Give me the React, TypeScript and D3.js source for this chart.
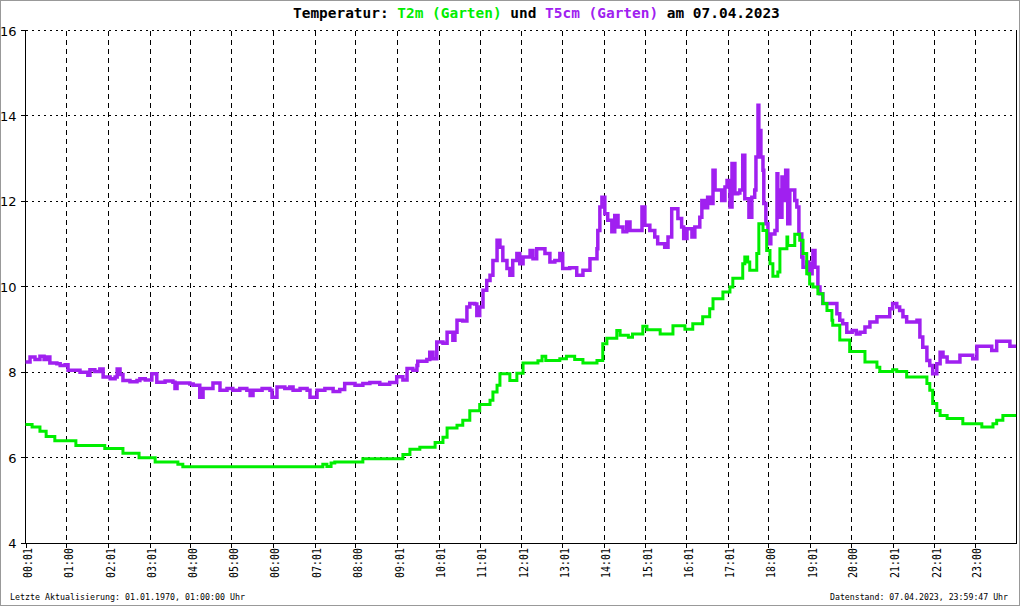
import React from 'react';
import * as d3 from 'd3';

const W = 1020;
const H = 606;

const titleParts: [string, string][] = [
  ['Temperatur: ', '#000000'],
  ['T2m (Garten) ', '#00ee00'],
  ['und ', '#000000'],
  ['T5cm (Garten) ', '#a020f0'],
  ['am 07.04.2023', '#000000'],
];

const xTickLabels = [
  '00:01', '01:00', '02:01', '03:01', '04:00', '05:00', '06:00', '07:01', '08:00', '09:01', '10:01', '11:01',
  '12:01', '13:01', '14:01', '15:01', '16:01', '17:01', '18:00', '19:01', '20:00', '21:01', '22:01', '23:00',
];
const yTickValues = [4, 6, 8, 10, 12, 14, 16];

const footerLeft = 'Letzte Aktualisierung: 01.01.1970, 01:00:00 Uhr';
const footerRight = 'Datenstand: 07.04.2023, 23:59:47 Uhr';

// [hour of day, °C]
const t2m: [number, number][] = [
  [0, 6.78], [0.16, 6.72], [0.35, 6.62], [0.5, 6.5], [0.71, 6.4], [1.22, 6.29], [1.92, 6.22], [2.36, 6.11],
  [2.75, 6.0], [3.14, 5.9], [3.69, 5.85], [3.81, 5.79], [7.2, 5.85], [7.3, 5.8], [7.4, 5.88], [7.49, 5.9],
  [8.17, 5.98], [9.14, 6.08], [9.31, 6.2], [9.55, 6.25], [9.92, 6.36], [10.11, 6.48], [10.21, 6.7], [10.45, 6.76],
  [10.59, 6.88], [10.76, 7.1], [11.0, 7.25], [11.25, 7.35], [11.32, 7.54], [11.42, 7.7], [11.49, 7.97], [11.73, 7.81],
  [11.9, 7.98], [12.05, 8.22], [12.41, 8.27], [12.51, 8.38], [12.6, 8.28], [12.94, 8.32], [13.1, 8.38], [13.3, 8.3],
  [13.5, 8.22], [13.84, 8.28], [13.98, 8.67], [14.08, 8.8], [14.32, 8.98], [14.4, 8.87], [14.6, 8.82], [14.7, 8.9],
  [14.95, 9.08], [15.05, 9.0], [15.37, 8.9], [15.68, 9.09], [15.97, 9.01], [16.16, 9.14], [16.4, 9.3], [16.57, 9.49],
  [16.65, 9.72], [16.89, 9.88], [17.06, 10.0], [17.13, 10.2], [17.37, 10.54], [17.42, 10.7], [17.49, 10.58], [17.54, 10.39],
  [17.71, 10.78], [17.76, 11.48], [17.86, 11.32], [17.95, 10.85], [18.03, 10.54], [18.1, 10.25], [18.22, 10.35], [18.27, 10.89],
  [18.44, 11.17], [18.46, 10.97], [18.63, 11.23], [18.75, 11.09], [18.83, 10.78], [18.92, 10.31], [18.99, 10.07], [19.07, 10.0],
  [19.19, 9.84], [19.31, 9.61], [19.41, 9.45], [19.53, 9.22], [19.55, 9.1], [19.72, 8.76], [19.96, 8.49], [20.33, 8.24],
  [20.62, 8.12], [20.69, 8.02], [21.0, 8.06], [21.1, 8.02], [21.34, 7.89], [21.83, 7.74], [21.9, 7.58], [21.97, 7.27],
  [22.07, 7.11], [22.15, 6.99], [22.32, 6.92], [22.7, 6.8], [23.16, 6.72], [23.43, 6.8], [23.52, 6.88], [23.67, 6.99],
  [23.99, 6.99],
];

const t5cm: [number, number][] = [
  [0, 8.24], [0.11, 8.36], [0.23, 8.3], [0.35, 8.38], [0.45, 8.3], [0.52, 8.36], [0.59, 8.22], [0.76, 8.2],
  [0.84, 8.16], [0.96, 8.18], [1.03, 8.05], [1.25, 8.05], [1.32, 8.0], [1.51, 7.93], [1.56, 8.06], [1.68, 8.02],
  [1.8, 8.08], [1.88, 7.89], [2.05, 7.85], [2.17, 7.89], [2.22, 8.08], [2.29, 7.95], [2.36, 7.81], [2.53, 7.78],
  [2.7, 7.81], [2.77, 7.85], [2.9, 7.82], [3.06, 7.97], [3.18, 7.77], [3.38, 7.8], [3.57, 7.77], [3.62, 7.62],
  [3.67, 7.75], [3.86, 7.75], [3.98, 7.73], [4.06, 7.7], [4.22, 7.42], [4.3, 7.62], [4.54, 7.75], [4.71, 7.58],
  [4.88, 7.62], [5.02, 7.58], [5.19, 7.62], [5.36, 7.58], [5.44, 7.46], [5.51, 7.58], [5.73, 7.62], [5.92, 7.58],
  [5.97, 7.42], [6.09, 7.66], [6.28, 7.62], [6.4, 7.66], [6.48, 7.58], [6.65, 7.62], [6.82, 7.58], [6.89, 7.42],
  [7.06, 7.58], [7.25, 7.62], [7.45, 7.55], [7.61, 7.6], [7.73, 7.74], [7.98, 7.7], [8.17, 7.74], [8.34, 7.76],
  [8.58, 7.72], [8.82, 7.76], [8.99, 7.9], [9.14, 7.82], [9.24, 8.09], [9.38, 8.05], [9.48, 8.16], [9.5, 8.26],
  [9.72, 8.3], [9.79, 8.47], [9.87, 8.32], [9.96, 8.71], [10.11, 8.68], [10.21, 8.94], [10.35, 8.75], [10.4, 8.94],
  [10.45, 9.22], [10.59, 9.2], [10.69, 9.53], [10.76, 9.61], [10.88, 9.6], [10.93, 9.33], [11.0, 9.53], [11.08, 9.92],
  [11.17, 10.15], [11.25, 10.27], [11.32, 10.62], [11.42, 11.09], [11.49, 10.93], [11.56, 10.62], [11.66, 10.43], [11.73, 10.27],
  [11.8, 10.62], [11.9, 10.78], [11.97, 10.54], [12.05, 10.7], [12.22, 10.85], [12.29, 10.66], [12.38, 10.89], [12.53, 10.89],
  [12.58, 10.78], [12.7, 10.58], [12.82, 10.62], [12.94, 10.78], [13.01, 10.43], [13.18, 10.45], [13.35, 10.27], [13.5, 10.39],
  [13.67, 10.66], [13.84, 10.89], [13.86, 11.32], [13.91, 11.87], [13.96, 12.1], [14.03, 11.71], [14.1, 11.56], [14.2, 11.29],
  [14.27, 11.67], [14.35, 11.4], [14.47, 11.29], [14.56, 11.52], [14.64, 11.32], [14.83, 11.32], [14.93, 11.87], [15.0, 11.44],
  [15.12, 11.32], [15.24, 11.17], [15.31, 11.01], [15.43, 11.01], [15.48, 10.93], [15.56, 11.17], [15.65, 11.83], [15.72, 11.83],
  [15.8, 11.6], [15.89, 11.4], [15.94, 11.13], [16.02, 11.36], [16.14, 11.17], [16.21, 11.4], [16.29, 11.4], [16.33, 11.63],
  [16.38, 12.02], [16.45, 11.85], [16.52, 12.1], [16.57, 11.95], [16.65, 12.73], [16.7, 12.27], [16.82, 12.27], [16.86, 12.02],
  [16.94, 12.34], [16.99, 12.49], [17.06, 11.87], [17.11, 12.89], [17.18, 12.18], [17.25, 12.2], [17.3, 12.27], [17.37, 13.08],
  [17.42, 12.06], [17.52, 11.63], [17.59, 12.1], [17.66, 12.27], [17.69, 13.04], [17.74, 14.25], [17.76, 13.66], [17.81, 13.04],
  [17.86, 12.73], [17.88, 11.95], [17.93, 11.48], [17.98, 11.01], [18.05, 11.24], [18.15, 11.32], [18.2, 12.65], [18.22, 12.27],
  [18.27, 11.63], [18.32, 12.57], [18.34, 12.02], [18.41, 12.73], [18.46, 11.48], [18.51, 12.27], [18.58, 12.27], [18.63, 12.02],
  [18.68, 11.87], [18.73, 11.24], [18.8, 10.7], [18.83, 10.46], [18.92, 10.58], [18.97, 10.31], [19.05, 10.54], [19.07, 10.85],
  [19.12, 10.46], [19.19, 10.0], [19.24, 9.84], [19.31, 9.61], [19.6, 9.61], [19.65, 9.37], [19.72, 9.22], [19.79, 9.14],
  [19.89, 8.94], [20.02, 8.98], [20.12, 8.9], [20.21, 8.94], [20.33, 9.06], [20.45, 9.18], [20.62, 9.3], [20.88, 9.3],
  [20.93, 9.49], [21.0, 9.61], [21.1, 9.53], [21.17, 9.45], [21.25, 9.3], [21.34, 9.18], [21.49, 9.18], [21.59, 9.22],
  [21.66, 8.83], [21.73, 8.59], [21.83, 8.28], [21.9, 8.16], [21.97, 7.97], [22.07, 8.2], [22.15, 8.47], [22.22, 8.36],
  [22.32, 8.24], [22.55, 8.24], [22.63, 8.4], [22.87, 8.4], [22.94, 8.32], [23.04, 8.61], [23.35, 8.61], [23.4, 8.51],
  [23.52, 8.73], [23.77, 8.73], [23.84, 8.61], [23.99, 8.61],
];

export default function App() {
  const x = d3.scaleLinear().domain([0, 24]).range([25.5, 1016.5]);
  const y = d3.scaleLinear().domain([4, 16]).range([543.3, 30.5]);
  const px = (v: number) => Math.floor(v) + 0.5;

  const lineStep = d3
    .line<[number, number]>()
    .x((d) => x(d[0]))
    .y((d) => y(d[1]))
    .curve(d3.curveStepAfter);

  const tickHours = xTickLabels.map((s) => {
    const [h, m] = s.split(':').map(Number);
    return h + m / 60;
  });

  const left = px(x(0));
  const right = px(x(24));
  const top = px(y(16));
  const bottom = px(y(4));

  return (
    <svg
      width={W}
      height={H}
      style={{ position: 'absolute', left: 0, top: 0, display: 'block', background: '#fff' }}
    >
      <rect x={0.5} y={0.5} width={W - 1} height={H - 1} fill="#fff" stroke="#999" />

      {/* horizontal grid */}
      {yTickValues
        .filter((v) => v !== 4)
        .map((v) => (
          <line
            key={'hg' + v}
            x1={left}
            x2={right}
            y1={px(y(v))}
            y2={px(y(v))}
            stroke="#000"
            strokeDasharray="2,4"
            shapeRendering="crispEdges"
          />
        ))}
      {/* vertical grid */}
      {tickHours.slice(1).map((h, i) => (
        <line
          key={'vg' + i}
          x1={px(x(h))}
          x2={px(x(h))}
          y1={top}
          y2={bottom}
          stroke="#000"
          strokeDasharray="5,4"
          shapeRendering="crispEdges"
        />
      ))}

      {/* axes */}
      <line x1={left} x2={left} y1={top} y2={bottom} stroke="#000" shapeRendering="crispEdges" />
      <line x1={right} x2={right} y1={top} y2={bottom} stroke="#000" shapeRendering="crispEdges" />
      <line x1={left} x2={right} y1={bottom} y2={bottom} stroke="#000" shapeRendering="crispEdges" />

      {/* y ticks and labels */}
      {yTickValues.map((v) => (
        <g key={'yt' + v}>
          <line x1={left - 5} x2={left} y1={px(y(v))} y2={px(y(v))} stroke="#000" shapeRendering="crispEdges" />
          <text
            x={16.5}
            y={y(v) + 5}
            textAnchor="end"
            fontFamily="DejaVu Sans"
            fontSize={13}
            fill="#000"
          >
            {v}
          </text>
        </g>
      ))}

      {/* x ticks and labels */}
      {tickHours.map((h, i) => (
        <g key={'xt' + i}>
          <line x1={px(x(h))} x2={px(x(h))} y1={bottom} y2={bottom + 4} stroke="#000" shapeRendering="crispEdges" />
          <text
            transform={`translate(${x(h) + 6},578) rotate(-90)`}
            fontFamily="DejaVu Sans Mono"
            fontSize={12}
            textLength={30}
            lengthAdjust="spacingAndGlyphs"
            fill="#000"
          >
            {xTickLabels[i]}
          </text>
        </g>
      ))}

      {/* series */}
      <path d={lineStep(t5cm) || ''} fill="none" stroke="#a020f0" strokeWidth={3.5} strokeLinejoin="miter" />
      <path d={lineStep(t2m) || ''} fill="none" stroke="#00ee00" strokeWidth={3} strokeLinejoin="miter" />

      {/* title */}
      <text
        x={293}
        y={18}
        fontFamily="DejaVu Sans Mono"
        fontSize={14.45}
        fontWeight="bold"
        style={{ whiteSpace: 'pre' }}
        xmlSpace="preserve"
      >
        {titleParts.map(([s, c], i) => (
          <tspan key={i} fill={c}>
            {s}
          </tspan>
        ))}
      </text>

      {/* footer */}
      <text
        x={10}
        y={600}
        fontFamily="DejaVu Sans Mono"
        fontSize={8.5}
        textLength={235}
        lengthAdjust="spacingAndGlyphs"
        fill="#000"
      >
        {footerLeft}
      </text>
      <text
        x={830}
        y={600}
        fontFamily="DejaVu Sans Mono"
        fontSize={8.5}
        textLength={178}
        lengthAdjust="spacingAndGlyphs"
        fill="#000"
      >
        {footerRight}
      </text>
    </svg>
  );
}
